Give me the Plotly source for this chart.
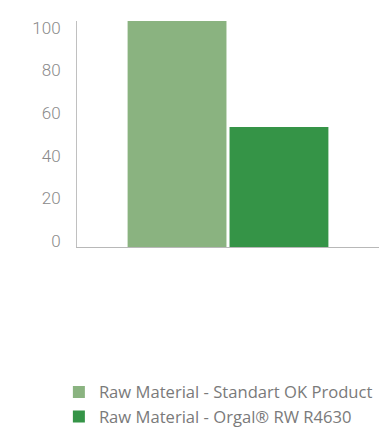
import plotly.graph_objects as go

categories = ["Raw Material"]
series_names = ["Raw Material - Standart OK Product", "Raw Material - Orgal® RW R4630"]
series_values = [[106], [56.3]]
series_colors = ["#8ab380", "#359447"]
tick_values = [0, 20, 40, 60, 80, 100]

fig = go.Figure()
for name, vals, color in zip(series_names, series_values, series_colors):
    fig.add_trace(go.Bar(x=categories, y=vals, name=name, marker_color=color,
                         marker_line_width=0))

fig.update_layout(
    width=389, height=428,
    margin=dict(l=77, r=10, t=21, b=181, autoexpand=False),
    paper_bgcolor="white", plot_bgcolor="white",
    barmode="group", bargap=0.325, bargroupgap=0.03,
    font=dict(family="Roboto", color="#888888"),
    showlegend=True,
    legend=dict(orientation="v", x=-0.06, xanchor="left", y=-0.565, yanchor="top",
                font=dict(family="Open Sans", size=16.6, color="#7a7a7a"), tracegroupgap=0,
                itemwidth=30, bgcolor="rgba(0,0,0,0)"),
    xaxis=dict(showline=True, linecolor="#b8b8b8", linewidth=1, showgrid=False,
               showticklabels=False, ticks="", zeroline=False),
    yaxis=dict(range=[0, 106], showline=True, linecolor="#c0c0c0", linewidth=1,
               showgrid=False, zeroline=False, tickvals=tick_values,
               ticks="", ticklabelstandoff=12, ticklabelshift=-6,
               tickfont=dict(size=17, color="#8a8a8a", weight=300)),
)

fig.write_html("out.html")
